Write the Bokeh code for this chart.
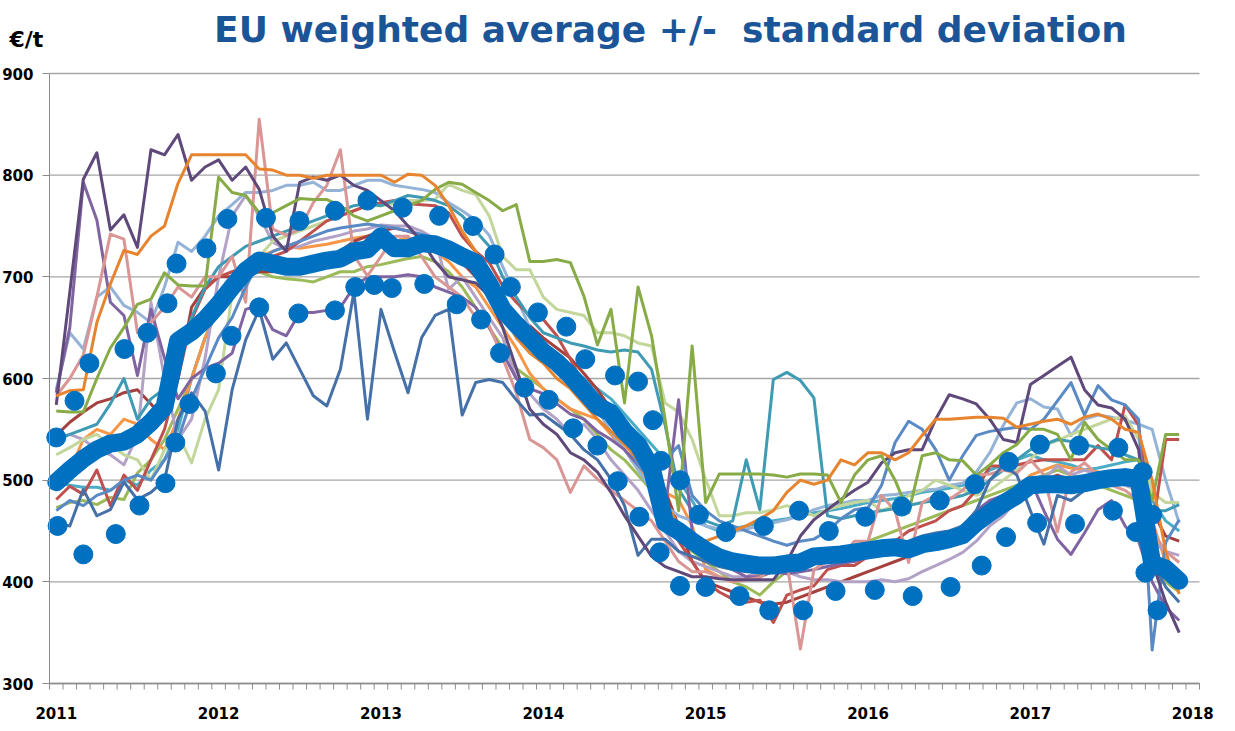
from bokeh.plotting import figure
from bokeh.models import Range1d, FixedTicker, Label
from bokeh.embed import file_html
from bokeh.resources import INLINE

# ---------------- data ----------------
years = ["2011", "2012", "2013", "2014", "2015", "2016", "2017", "2018"]
month_index = list(range(84))          # Jan 2011 .. Dec 2017
month_edges = [k - 0.5 for k in range(86)]
y_ticks = [300, 400, 500, 600, 700, 800, 900]

eu_average = [498,510,521,530,536,538,545,557,572,637,646,658,
              673,690,706,716,713,710,710,713,716,718,725,727,
              740,728,728,733,732,727,720,714,693,668,653,640,
              626,616,603,588,573,566,548,535,512,458,450,440,
              431,424,420,418,416,416,418,419,425,426,427,429,
              431,433,434,432,437,439,442,446,458,468,477,485,
              495,496,496,495,497,500,502,503,501,418,413,401]

# average + std (months since Jan 2011, value)
upper_x = [0.0,1.35,2.45,5.04,6.74,8.22,8.89,11.1,12.65,15.5,17.97,20.6,23.0,25.6,28.3,30.8,32.4,33.6,35.6,37.7,
           39.1,41.3,43.0,44.1,44.7,46.1,47.5,49.5,52.3,54.9,57.1,59.8,62.5,65.3,67.9,70.4,72.7,75.6,78.5,80.3,81.0]
upper_v = [542,578,615,629,645,674,713,728,757,758,755,765,775,768,760,750,722,690,665,651,
           619,603,597,559,519,500,466,449,455,470,450,464,474,480,496,518,535,534,532,508,466]
# average - std
lower_x = [0.1,2.0,4.4,6.15,8.07,8.8,9.85,11.8,12.95,15.0,17.9,20.6,22.1,23.5,24.8,27.2,29.6,31.4,32.8,34.6,
           36.4,38.2,40.0,41.5,43.1,44.6,46.1,48.0,50.5,52.7,55.2,57.6,60.5,63.3,66.1,68.4,70.2,72.5,75.3,78.1,
           79.8,80.5,81.4]
lower_v = [455,427,447,475,497,537,575,605,642,670,664,667,690,692,689,693,673,658,625,591,
           579,551,534,499,464,429,396,395,386,372,372,391,392,386,395,416,444,458,457,470,
           449,409,372]

ms_orange_dark = [583,588,589,655,693,726,722,740,750,792,820,820,
                  820,820,820,806,805,800,800,797,800,800,800,800,
                  800,793,801,800,790,770,745,725,700,665,640,625,
                  615,600,590,575,560,548,535,520,505,480,455,440,
                  440,445,450,455,462,470,488,500,496,500,520,515,
                  527,527,520,527,544,560,560,561,562,562,561,552,
                  555,558,560,555,562,565,560,550,547,500,430,388]
ms_dark_purple = [574,685,796,822,746,761,729,825,820,840,795,808,
                  815,795,808,786,740,725,793,798,795,800,790,785,
                  775,765,750,735,715,700,697,694,681,650,610,570,
                  555,545,527,520,508,488,465,445,425,415,410,405,
                  405,403,402,402,402,402,420,445,461,471,481,490,
                  498,517,527,530,530,560,584,580,575,560,540,537,
                  594,603,612,621,589,574,571,560,530,420,380,350]
ms_steel_blue = [458,455,491,465,471,498,481,488,500,560,586,568,
                 510,589,638,668,619,635,609,583,573,609,685,560,
                 668,626,586,640,662,668,564,596,599,596,579,564,
                 565,555,545,530,520,501,475,426,442,442,430,425,
                 420,415,412,410,410,412,415,418,420,420,422,424,
                 425,428,430,440,445,448,450,455,470,500,515,505,
                 470,437,485,480,490,500,505,500,495,420,395,380]
ms_blue = [470,480,475,485,490,500,505,500,520,540,580,610,
           640,660,690,715,725,730,735,740,745,748,750,752,
           750,748,745,742,738,730,720,705,690,672,655,640,
           625,610,600,590,575,560,540,515,500,520,534,485,
           470,460,455,450,445,440,436,440,442,450,462,471,
           473,495,537,558,550,530,500,524,544,548,550,552,
           550,560,578,596,564,593,579,574,560,333,439,461]
ms_pink = [583,600,623,680,742,737,645,655,670,690,680,700,
           700,720,675,855,747,741,747,773,790,825,721,701,
           720,740,740,720,700,690,680,660,652,620,586,540,
           532,520,488,514,501,490,480,470,460,440,420,410,
           410,405,400,402,404,415,419,334,412,420,425,440,
           440,485,470,419,478,485,481,490,505,506,510,507,
           520,505,449,508,517,505,495,490,480,450,430,419]
ms_purple = [586,650,793,756,675,662,603,668,620,580,600,610,
             615,625,668,672,648,642,665,665,667,670,690,700,
             700,700,702,700,690,685,680,670,650,625,600,590,
             585,575,565,560,548,540,530,515,505,470,579,450,
             430,420,412,405,405,410,408,410,412,415,418,420,
             425,430,432,435,440,445,448,452,470,480,485,490,
             500,470,442,427,448,471,480,455,440,400,375,362]
ms_green = [568,567,567,600,630,650,673,678,704,692,691,691,
            798,783,780,763,763,770,777,776,776,770,760,755,
            760,765,770,775,786,793,791,783,775,765,771,715,
            715,717,714,681,633,668,576,690,642,560,470,632,
            478,506,506,506,506,505,503,506,506,505,478,505,
            520,524,500,468,524,527,520,519,505,515,527,535,
            550,550,545,520,557,540,530,520,520,480,545,545]
ms_teal_dark = [540,545,550,555,575,600,560,580,590,620,660,690,
                710,720,730,735,740,745,750,755,760,765,770,772,
                770,775,780,778,775,770,760,745,730,700,680,660,
                645,640,635,632,628,626,628,626,609,554,491,470,
                460,455,460,520,471,599,606,598,581,465,462,465,
                468,470,472,475,478,480,482,485,490,500,510,520,
                530,535,540,538,535,532,530,525,520,470,470,476]
ms_red = [481,494,486,510,475,505,490,520,550,600,658,688,
          700,705,710,715,720,725,735,745,755,760,765,770,
          773,775,772,771,770,763,740,725,714,691,675,662,
          658,642,619,593,583,564,545,520,500,470,440,420,
          400,390,383,380,382,360,387,392,396,412,416,416,
          425,430,440,450,455,460,470,475,490,514,514,515,
          518,520,520,520,520,534,520,574,554,450,540,540]
ms_light_green = [525,532,540,545,535,525,520,500,530,545,517,560,
                  589,684,700,720,735,740,745,750,755,760,765,770,
                  770,772,775,775,776,791,785,781,760,720,707,707,
                  680,668,665,662,645,645,642,635,632,576,567,540,
                  501,465,465,468,468,471,475,470,465,471,475,478,
                  480,470,475,485,490,500,495,490,485,490,500,510,
                  520,534,539,545,550,555,560,563,540,488,478,478]
ms_light_blue = [589,645,629,680,690,672,665,655,690,734,725,740,
                 760,771,783,783,785,790,790,793,785,785,790,795,
                 795,790,788,786,783,773,765,756,741,710,680,650,
                 625,606,596,586,570,547,530,510,490,475,465,460,
                 455,452,449,452,455,458,461,465,471,475,477,480,
                 480,485,486,488,490,491,495,497,508,527,554,576,
                 580,572,570,544,560,564,562,559,555,550,500,458]
ms_light_purple = [540,545,540,530,525,515,544,675,600,540,560,620,
                   700,760,780,760,734,727,730,735,738,741,745,747,
                   751,750,750,745,737,688,700,680,660,640,600,585,
                   570,560,545,555,540,520,505,490,470,450,430,420,
                   415,410,405,405,410,412,410,405,402,402,400,400,
                   400,402,400,403,410,416,422,429,440,455,465,480,
                   490,501,514,505,510,505,500,495,490,440,430,426]
ms_dark_red = [544,557,567,576,580,586,589,575,560,600,670,690,
               700,700,705,705,705,710,712,715,720,725,735,740,
               745,748,745,740,735,725,714,700,691,675,662,652,
               640,630,620,605,589,570,555,540,520,490,455,420,
               400,395,390,385,380,378,380,385,390,395,400,405,
               410,415,420,425,430,435,440,445,455,470,480,490,
               495,500,505,500,498,500,505,510,505,470,445,440]
ms_orange_light = [500,510,540,550,545,560,555,540,530,560,600,640,
                   670,690,705,720,725,730,728,730,732,735,738,740,
                   740,735,738,735,725,715,700,690,670,650,630,605,
                   590,580,570,565,560,545,530,514,495,488,481,455,
                   412,405,400,405,408,410,415,418,420,422,425,430,
                   430,432,435,438,440,442,445,450,460,470,480,490,
                   505,510,515,512,510,508,505,500,498,460,420,402]
ms_teal_light = [498,495,493,493,490,500,495,510,520,550,600,640,
                 670,690,700,705,710,712,715,718,720,722,725,728,
                 730,735,738,735,730,725,718,705,690,675,660,645,
                 632,622,610,600,590,580,565,550,535,520,500,480,
                 455,450,452,455,458,460,462,465,468,470,472,475,
                 478,480,482,485,488,490,492,495,500,510,515,520,
                 525,520,518,515,510,512,515,518,520,480,460,450]
ms_green_light = [473,478,480,476,483,481,507,520,540,570,600,640,
                  670,690,700,705,700,698,697,695,700,705,705,710,
                  712,715,718,720,715,705,690,670,650,630,610,600,
                  590,580,570,560,545,530,520,505,490,470,445,430,
                  420,410,400,395,387,400,410,415,420,425,430,435,
                  440,445,450,455,460,465,470,475,480,485,490,495,
                  500,505,510,505,500,495,490,485,480,430,400,390]

title_text = "EU weighted average +/-\u00a0 standard deviation"
unit_text = "€/t"

# ---------------- styling ----------------
series = [
    (ms_green_light, "#9BBB59"),
    (ms_teal_light, "#4BACC6"),
    (ms_orange_light, "#F79646"),
    (ms_dark_red, "#A5403D"),
    (ms_light_purple, "#B3A2C7"),
    (ms_light_blue, "#95B3D7"),
    (ms_light_green, "#C3D69B"),
    (ms_red, "#C0504D"),
    (ms_teal_dark, "#3F9AB4"),
    (ms_purple, "#8064A2"),
    (ms_pink, "#D99694"),
    (ms_blue, "#5A8AC6"),
    (ms_steel_blue, "#4571A8"),
    (ms_dark_purple, "#5F497A"),
    (ms_green, "#87AB47"),
    (ms_orange_dark, "#E7842F"),
]

# frame spans the full width, from the top of the canvas to 10 px below the 300 line
FW, FH = 1219, 693
X0, X1 = -0.5, 84.5
Y0, Y1 = 300, 900
px_x = 1150 / (X1 - X0)
px_y = 610 / (Y1 - Y0)
x_lo = X0 - 49 / px_x
x_hi = x_lo + FW / px_x
y_hi = Y1 + 73 / px_y
y_lo = y_hi - FH / px_y
tick_len = 6 / px_y

p = figure(frame_width=FW, frame_height=FH, min_border=0,
           x_range=Range1d(x_lo, x_hi), y_range=Range1d(y_lo, y_hi),
           output_backend="svg", toolbar_location=None, tools="")
p.outline_line_color = None
p.background_fill_color = "white"
p.border_fill_color = "white"
p.xgrid.visible = False
p.ygrid.visible = False

# horizontal gridlines limited to the plot area
p.segment(x0=[X0] * len(y_ticks), y0=y_ticks, x1=[X1] * len(y_ticks), y1=y_ticks,
          line_color="#A6A6A6", line_width=1.3)
# category axis line and monthly tick marks at the 300 level
p.segment(x0=[X0], y0=[Y0], x1=[X1], y1=[Y0], line_color="#8C8C8C", line_width=1.3)
p.segment(x0=month_edges, y0=[Y0] * len(month_edges), x1=month_edges,
          y1=[Y0 - tick_len] * len(month_edges), line_color="#8C8C8C", line_width=1)

p.yaxis.fixed_location = X0
p.yaxis.bounds = (Y0, Y1)
p.yaxis.ticker = FixedTicker(ticks=y_ticks)
p.yaxis.axis_line_color = "#8C8C8C"
p.yaxis.major_tick_line_color = "#8C8C8C"
p.yaxis.major_tick_out = 7
p.yaxis.major_tick_in = 0
p.yaxis.minor_tick_line_color = None
p.yaxis.major_label_standoff = 9

# year labels (axis below the frame; its own line and ticks hidden)
p.xaxis.ticker = FixedTicker(ticks=[12 * k for k in range(len(years))])
p.xaxis.major_label_overrides = {12 * k: y for k, y in enumerate(years)}
p.xaxis.axis_line_color = None
p.xaxis.major_tick_line_color = None
p.xaxis.minor_tick_line_color = None
p.xaxis.major_tick_out = 0
p.xaxis.major_tick_in = 0
p.xaxis.minor_tick_out = 0
p.xaxis.minor_tick_in = 0
p.xaxis.major_label_standoff = 13

for ax in (p.xaxis, p.yaxis):
    ax.major_label_text_font = "DejaVu Sans"
    ax.major_label_text_font_style = "bold"
    ax.major_label_text_font_size = "15px"
    ax.major_label_text_color = "black"

for vals, col in series:
    p.line(month_index, vals, line_width=3, line_color=col, line_join="round")

p.line(month_index, eu_average, line_width=18, line_color="#0070C0", line_join="round", line_cap="round")
p.scatter(upper_x, upper_v, size=19, fill_color="#0070C0", line_color="#0070C0")
p.scatter(lower_x, lower_v, size=19, fill_color="#0070C0", line_color="#0070C0")

title = Label(x=670, y=FH - 29, x_units="screen", y_units="screen",
              text=title_text,
              text_align="center", text_baseline="alphabetic",
              text_font="DejaVu Sans", text_font_style="bold",
              text_font_size="36px", text_color="#1B5597")
unit = Label(x=9, y=FH - 39, x_units="screen", y_units="screen", text=unit_text,
             text_align="left", text_baseline="alphabetic",
             text_font="DejaVu Sans", text_font_style="bold",
             text_font_size="22px", text_color="black")
p.add_layout(title)
p.add_layout(unit)

open("out.html", "w").write(file_html(p, INLINE))
